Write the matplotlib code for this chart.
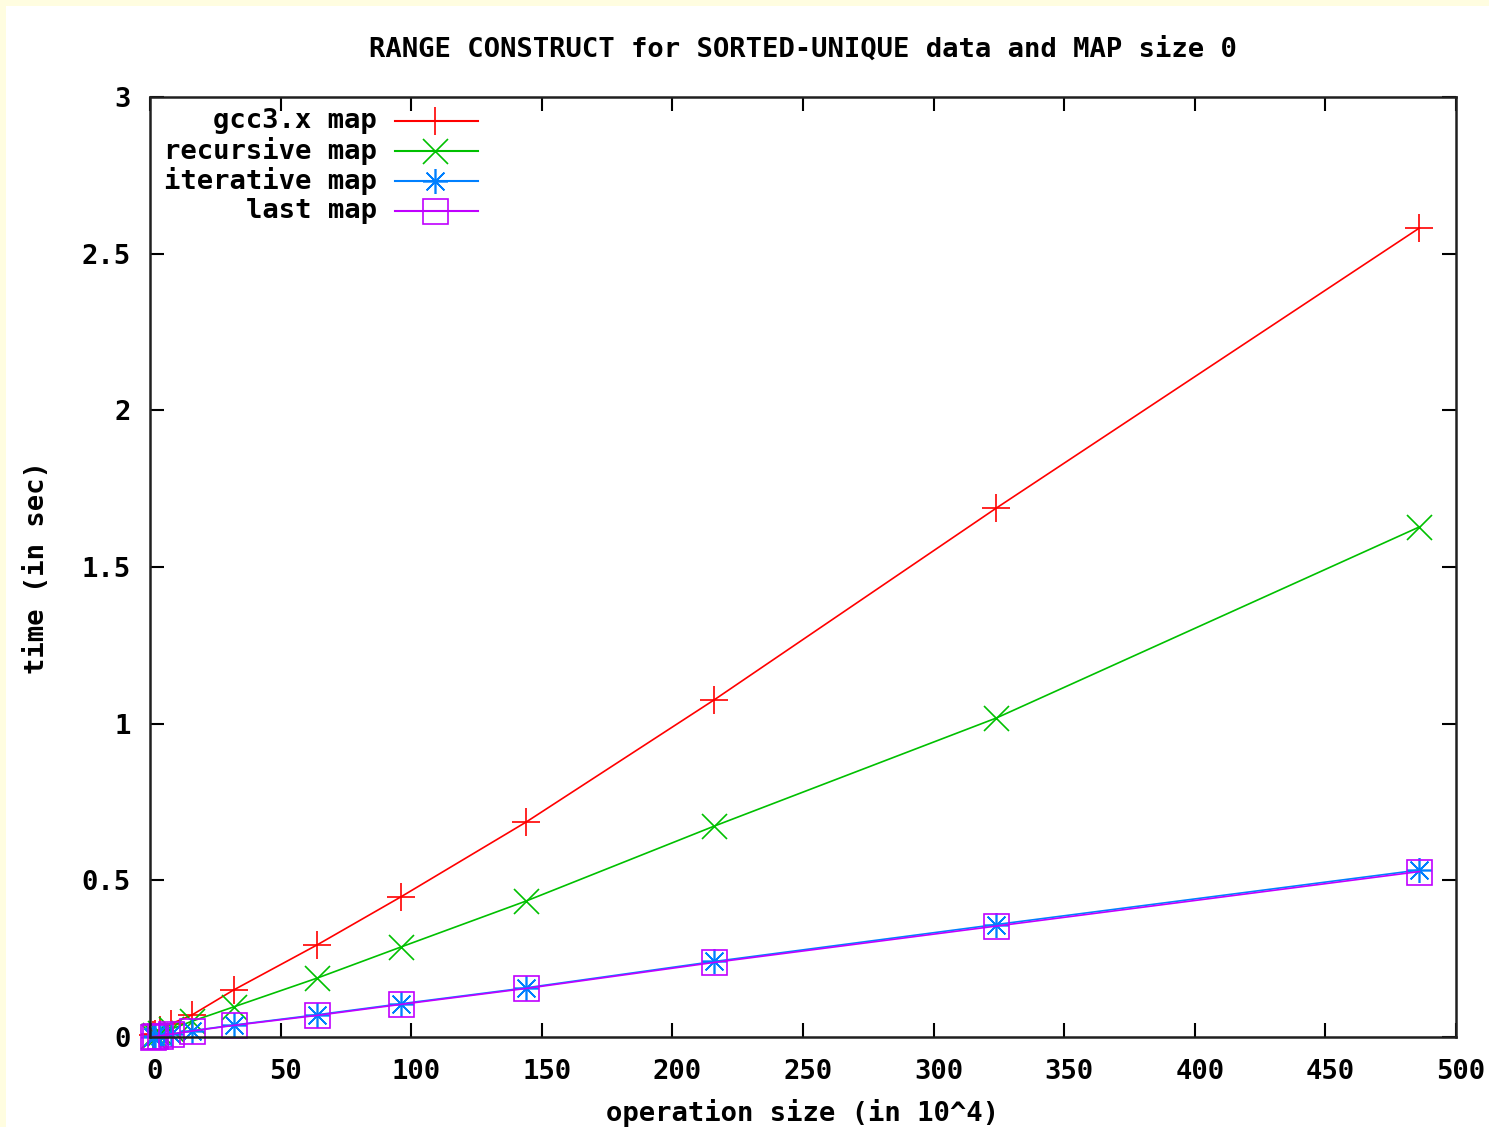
import numpy as np
import matplotlib
matplotlib.use("Agg")
import matplotlib.pyplot as plt
import matplotlib.transforms as mtransforms
from matplotlib.patches import Rectangle

plt.rcParams['font.family'] = ['DejaVu Sans Mono', 'DejaVu Sans']
plt.rcParams['font.weight'] = 'bold'

## data (x in 10^4 operations, y in seconds)
op_size = [1, 2, 4, 8, 16, 32, 64, 96, 144, 216, 324, 486]
gcc_map = [0.005, 0.010, 0.021, 0.042, 0.070, 0.150, 0.294, 0.447, 0.686, 1.076, 1.688, 2.582]
recursive_map = [0.003, 0.006, 0.012, 0.025, 0.050, 0.096, 0.188, 0.287, 0.434, 0.673, 1.018, 1.628]
iterative_map = [0.001, 0.002, 0.004, 0.009, 0.020, 0.038, 0.071, 0.106, 0.157, 0.241, 0.359, 0.533]
last_map = [0.001, 0.002, 0.004, 0.009, 0.019, 0.037, 0.069, 0.104, 0.155, 0.238, 0.354, 0.528]

labels = ["gcc3.x map", "recursive map", "iterative map", "last map"]
colors = ["#ff0000", "#00c000", "#0080ff", "#c000ff"]
markers = ["+", "x", (8, 2, 0), "s"]
msizes = [20, 18, 18, 18]
series = [gcc_map, recursive_map, iterative_map, last_map]

fs = 19.6

fig = plt.figure(figsize=(14.89, 11.27), dpi=100, facecolor="#fffde0")
# white page with a thin yellow frame left/top
fig.add_artist(Rectangle((6/1489, 0), 1, 1 - 6/1127, transform=fig.transFigure,
                         facecolor="white", edgecolor="none", zorder=0))

ax = fig.add_axes([150/1489, 1 - 1037/1127, 1306/1489, 940/1127])
ax.set_facecolor("white")

for vals, lab, c, m, ms in zip(series, labels, colors, markers, msizes):
    mfc = "none" if m == "s" else c
    ax.plot(op_size, vals, color=c, lw=1.2, marker=m, markersize=ms,
            markeredgewidth=1.2, markerfacecolor=mfc, label=lab, clip_on=False)

ax.set_xlim(0, 500)
ax.set_ylim(0, 3)
ax.set_xticks(np.arange(0, 501, 50))
ax.set_yticks([0, 0.5, 1, 1.5, 2, 2.5, 3])
ax.set_yticklabels(["0", "0.5", "1", "1.5", "2", "2.5", "3"])
ax.tick_params(direction="in", length=10, width=1.5, top=True, right=True,
               labelsize=fs, colors="black")
ax.tick_params(axis="x", pad=16)
ax.tick_params(axis="y", pad=14)
for s in ax.spines.values():
    s.set_linewidth(1.8)
    s.set_color("#202020")

# gnuplot puts the x tick labels a few pixels right of the tick
shift = mtransforms.ScaledTranslation(5/100, 0, fig.dpi_scale_trans)
for t in ax.get_xticklabels():
    t.set_transform(t.get_transform() + shift)

## legend drawn by hand (gnuplot style: text right aligned, sample to the right)
rows = [121, 151, 181, 211]
for yp, lab, c, m, ms in zip(rows, labels, colors, markers, msizes):
    ya = (1037 - yp) / 940
    ax.text(0.1738, ya, lab, transform=ax.transAxes, ha="right", va="center",
            fontsize=fs, fontweight="bold")
    ax.plot([0.1876, 0.2511], [ya, ya], color=c, lw=1.5, transform=ax.transAxes,
            clip_on=False)
    mfc = "none" if m == "s" else c
    ax.plot([0.2182], [ya], color=c, marker=m, markersize=ms, markeredgewidth=1.2,
            markerfacecolor=mfc, transform=ax.transAxes, clip_on=False)

fig.text(803/1489, 1 - 50/1127, "RANGE CONSTRUCT for SORTED-UNIQUE data and MAP size 0",
         ha="center", va="center", fontsize=fs, fontweight="bold")
fig.text(803/1489, 1 - 1113/1127, "operation size (in 10^4)",
         ha="center", va="center", fontsize=fs, fontweight="bold")
fig.text(37/1489, 1 - 568/1127, "time (in sec)", rotation=90,
         ha="center", va="center", fontsize=fs, fontweight="bold")

fig.savefig("out.png", dpi=100)
